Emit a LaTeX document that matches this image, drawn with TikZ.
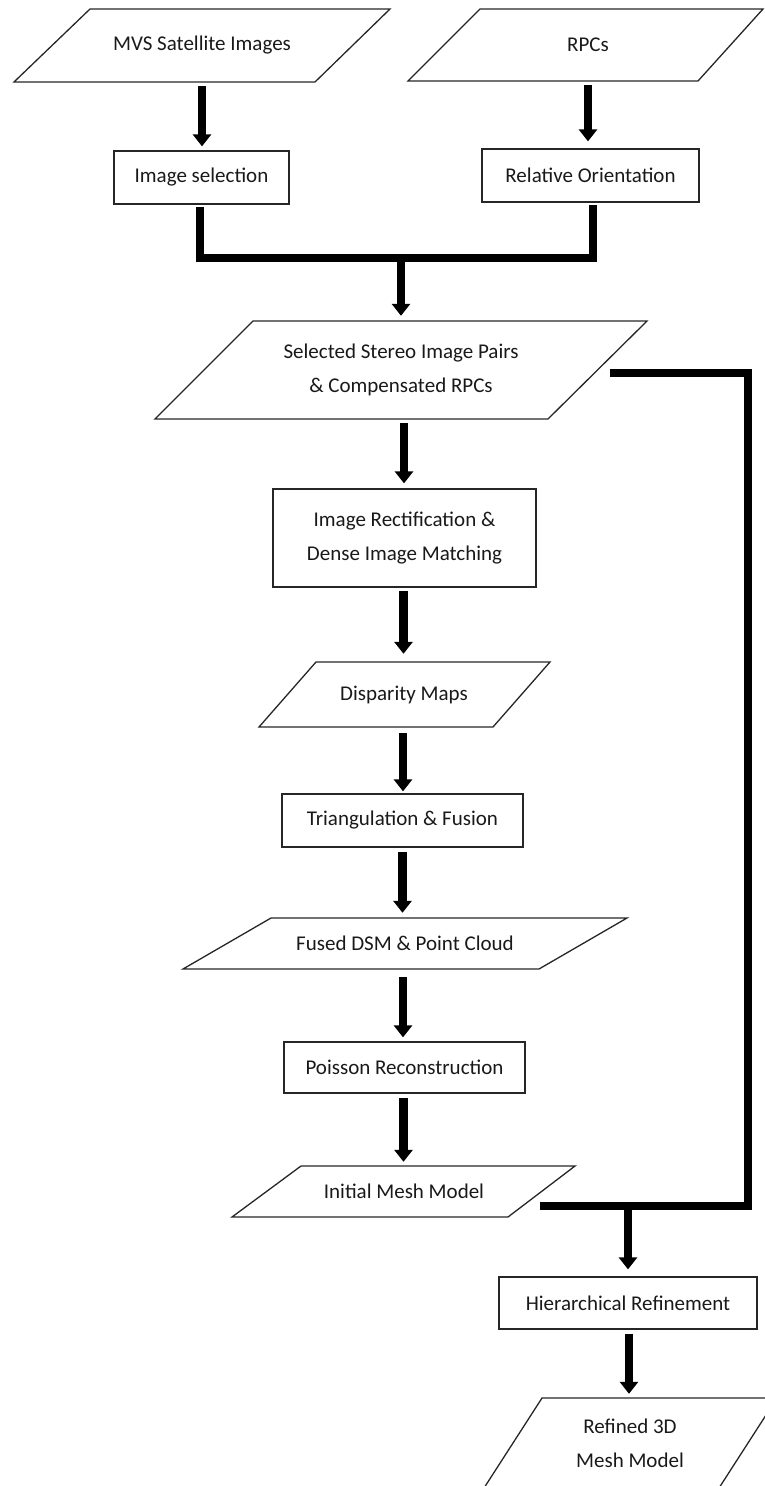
\documentclass[tikz,border=0pt]{standalone}
\usepackage{fontspec}
\setmainfont{Carlito}
\usetikzlibrary{arrows.meta}
\begin{document}
\begin{tikzpicture}[x=1pt,y=-1pt,
  lbl/.style={inner sep=0pt, align=center, font=\fontsize{21}{34}\selectfont, text=black!90},
  procbox/.style={lbl, draw=black!85, line width=1.3pt},
  iotext/.style={lbl},
  outline/.style={draw=black!85, line width=1.3pt, line join=miter},
  flow/.style={line width=8.5pt, -{Triangle[length=12pt,width=18pt]}},
  link/.style={line width=8.5pt, line join=miter}]
\clip (0,0) rectangle (765,1486);
\useasboundingbox (0,0) rectangle (765,1486);

% input / output parallelograms
\draw[outline] (90,9) -- (390,9) -- (315,82) -- (14,82) -- cycle;
\node[iotext, minimum height=73pt] (mvs) at (202,45.5) {MVS Satellite Images};

\draw[outline] (480,9) -- (763,9) -- (698,81) -- (408,81) -- cycle;
\node[iotext, minimum height=72pt] (rpc) at (588,45) {RPCs};

\draw[outline] (253,321) -- (647,321) -- (548,419) -- (155,419) -- cycle;
\node[iotext, minimum height=98pt] (sel) at (401,370) {Selected Stereo Image Pairs\\ \& Compensated RPCs};

\draw[outline] (316,662) -- (550,662) -- (493,727) -- (259,727) -- cycle;
\node[iotext, minimum height=65pt] (disp) at (404,694.5) {Disparity Maps};

\draw[outline] (271,918) -- (627,918) -- (539,969) -- (183,969) -- cycle;
\node[iotext, minimum height=51pt] (fused) at (405,943.5) {Fused DSM \& Point Cloud};

\draw[outline] (301,1166) -- (575,1166) -- (508,1217) -- (232,1217) -- cycle;
\node[iotext, minimum height=51pt] (init) at (404,1191.5) {Initial Mesh Model};

\draw[outline] (542,1398) -- (777,1398) -- (719,1488) -- (484,1488) -- cycle;
\node[iotext, minimum height=90pt] (refined) at (630,1443) {Refined 3D\\Mesh Model};

% process boxes
\node[procbox, minimum width=175pt, minimum height=53pt] (imgsel) at (201.5,177.5) {Image selection};
\node[procbox, minimum width=217pt, minimum height=53pt] (relor) at (590.5,175.5) {Relative Orientation};
\node[procbox, minimum width=263pt, minimum height=98pt] (rect) at (404.5,538) {Image Rectification \&\\Dense Image Matching};
\node[procbox, minimum width=241pt, minimum height=53pt] (tri) at (402.5,820.5) {Triangulation \& Fusion};
\node[procbox, minimum width=241pt, minimum height=51pt] (poisson) at (404.5,1067.5) {Poisson Reconstruction};
\node[procbox, minimum width=258pt, minimum height=52pt] (hier) at (628,1303) {Hierarchical Refinement};

% helper coordinates
\coordinate (merge) at (401,258);
\coordinate (fbstart) at (610,373);
\coordinate (fbright) at (748,1206);
\coordinate (fbend) at (540,1206);
\coordinate (junc) at (628,1206);

% connectors
\draw[flow, shorten <=4pt, shorten >=4pt] (mvs.south) -- (mvs.south |- imgsel.north);
\draw[flow, shorten <=4pt, shorten >=7pt] (rpc.south) -- (rpc.south |- relor.north);
\draw[link, shorten <=2pt, shorten >=2pt] ([xshift=-1.5pt]imgsel.south) |- (merge) -| ([xshift=2.5pt]relor.south);
\draw[flow, shorten >=5pt] (merge) -- (merge |- sel.north);
\draw[flow, shorten <=4pt, shorten >=5pt] ([xshift=3pt]sel.south) -- ([xshift=3pt]sel.south |- rect.north);
\draw[flow, shorten <=3pt, shorten >=8pt] ([xshift=-1pt]rect.south) -- ([xshift=-1pt]rect.south |- disp.north);
\draw[flow, shorten <=6pt, shorten >=2pt] ([xshift=-1pt]disp.south) -- ([xshift=-1pt]disp.south |- tri.north);
\draw[flow, shorten <=4pt, shorten >=5pt] (tri.south) -- (tri.south |- fused.north);
\draw[flow, shorten <=8pt, shorten >=4pt] ([xshift=-2pt]fused.south) -- ([xshift=-2pt]fused.south |- poisson.north);
\draw[flow, shorten <=4pt, shorten >=4pt] ([xshift=-1pt]poisson.south) -- ([xshift=-1pt]poisson.south |- init.north);
\draw[link] (fbstart) -| (fbright) -- (fbend);
\draw[flow, shorten >=7pt] (junc) -- (junc |- hier.north);
\draw[flow, shorten <=4pt, shorten >=4pt] ([xshift=1pt]hier.south) -- ([xshift=1pt]hier.south |- refined.north);
\end{tikzpicture}
\end{document}
